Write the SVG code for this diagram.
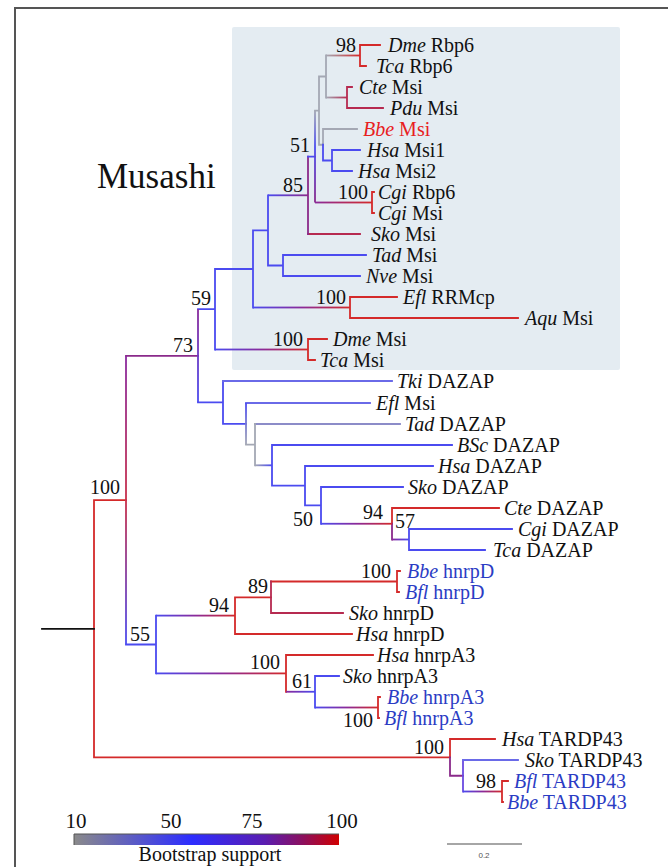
<svg xmlns="http://www.w3.org/2000/svg" width="668" height="867" viewBox="0 0 668 867">
<style>
text{font-family:"Liberation Serif","Times New Roman",serif;font-size:20px;fill:#111}
.i{font-style:italic}
.bl{fill:#2b3cc4}
.rd{fill:#e8201e}
.bs{text-anchor:end}
path{fill:none;stroke-width:1.8;stroke-linecap:square}
.r{stroke:#d42a2a}.b{stroke:#4b4bf0}.g{stroke:#a4a8b4}.p{stroke:#8a2a8a}.c{stroke:#b62a50}.k{stroke:#111}
.lb{stroke:#6a6ae8}.gb{stroke:#8c8cc8}.vb{stroke:#6a4ae0}
</style>
<defs>
<linearGradient id="gGR"><stop offset="0" stop-color="#a4a8b4"/><stop offset="1" stop-color="#d42a2a"/></linearGradient>
<linearGradient id="gGC"><stop offset="0" stop-color="#a4a8b4"/><stop offset="1" stop-color="#b62a50"/></linearGradient>
<linearGradient id="gBR"><stop offset="0" stop-color="#4b4bf0"/><stop offset="0.5" stop-color="#8a2a9a"/><stop offset="1" stop-color="#d42a2a"/></linearGradient>
<linearGradient id="gBP"><stop offset="0" stop-color="#4b4bf0"/><stop offset="1" stop-color="#8a2a8a"/></linearGradient>
<linearGradient id="gPR"><stop offset="0" stop-color="#8a2a9a"/><stop offset="1" stop-color="#d42a2a"/></linearGradient>
<linearGradient id="gPB"><stop offset="0" stop-color="#8a2a9a"/><stop offset="1" stop-color="#4b4bf0"/></linearGradient>
<linearGradient id="gGB"><stop offset="0" stop-color="#a4a8b4"/><stop offset="1" stop-color="#4b4bf0"/></linearGradient>
<linearGradient id="vGBP" x1="0" y1="0" x2="0" y2="1"><stop offset="0" stop-color="#a4a8b4"/><stop offset="0.4" stop-color="#4b4bf0"/><stop offset="1" stop-color="#8a2a8a"/></linearGradient>
<linearGradient id="vPB" x1="0" y1="0" x2="0" y2="1"><stop offset="0" stop-color="#8a2a9a"/><stop offset="1" stop-color="#4b4bf0"/></linearGradient>
<linearGradient id="vBG" x1="0" y1="0" x2="0" y2="1"><stop offset="0" stop-color="#4b4bf0"/><stop offset="1" stop-color="#a4a8b4"/></linearGradient>
<linearGradient id="vPRB" x1="0" y1="0" x2="0" y2="1"><stop offset="0" stop-color="#8a2aa0"/><stop offset="0.5" stop-color="#c8304a"/><stop offset="1" stop-color="#4b4bf0"/></linearGradient>
<linearGradient id="vRP" x1="0" y1="0" x2="0" y2="1"><stop offset="0" stop-color="#d42a2a"/><stop offset="1" stop-color="#8a2a9a"/></linearGradient>
<linearGradient id="leg"><stop offset="0" stop-color="#8a8a8a"/><stop offset="0.444" stop-color="#2d2dff"/><stop offset="0.72" stop-color="#5a1db0"/><stop offset="0.86" stop-color="#8a1060"/><stop offset="1" stop-color="#d00000"/></linearGradient>
</defs>
<rect width="668" height="867" fill="#fff"/>
<path d="M15 867V8H668" style="stroke:#555;stroke-width:2;stroke-linecap:butt"/>
<rect id="musashi-box" x="232" y="27" width="388" height="343" rx="2" fill="#e4ecf2"/>
<text id="musashi-label" x="97" y="188" style="font-size:35px">Musashi</text>

<g id="connectors">
<!-- gray -->
<path class="g" d="M326 55.5V97.5M319 76.5V144.75M319 76.5H326M319 144.75H323M323 129V144.75M323 129H357M315 110.6H319"/>
<rect x="326" y="54.6" width="34" height="1.8" fill="url(#gGR)"/>
<rect x="326" y="96.6" width="21" height="1.8" fill="url(#gGC)"/>
<!-- red -->
<path class="r" d="M360 45V66M360 45H380M360 66H366M372 192V213M372 192H374M372 213H374M350 297V318M350 297H397M350 318H518M308 339V360M308 339H327M308 360H315M392 508V523.75M392 508H499M94 500.1H126M94 500.1V757.4M235 597.3V634M235 634H352M235 597.3H271M271 581.5H397M397 571V592M397 571H400M397 592H399M286 655V691.75M286 655H373M378 697V718M378 697H380M378 718H379M94 757.4H450M450 739V757.4M450 739H495M502 781V802M502 781H508M502 802H503"/>
<path class="c" d="M347 87V108M347 87H352M347 108H383M271 581.5V613M271 613H343M308 234H360"/>
<rect x="307.1" y="156.6" width="1.8" height="77.4" fill="url(#vRP)" style="opacity:0"/>
<path class="p" d="M308 156.6V234M126 355.8H198M392 523.75V539.5M450 757.4V775.75M450 775.75H463"/>
<!-- blue -->
<path class="b" d="M332 150V171M332 150H360M332 171H352M323 160.5H332M323 144.75V160.5M308 156.6H315M268 195.3V265.5M268 265.5H283M283 255V276M283 255H366M283 276H360M253 230.4H268M253 230.4V307.5M215 269H253M215 269V349.5M198 309.2H215M198 402.4H223M223 381V423.8M223 423.8H246M272 445V485.7M272 445H452M272 485.7H305M305 466V505.4M305 466H433M305 505.4H321M321 487V523.75M321 487H403M409 529V550M409 529H512M409 550H485M126 644.5H156M156 615.6V673.4M315 676V707.5M315 676H339"/>
<path class="lb" d="M223 381H392M246 403H370"/>
<path class="gb" d="M255 424H400"/>
<path class="g" d="M246 444.7H255M255 424V465.3"/>
<path class="vb" d="M463 760V791.5"/>
<path class="lb" d="M463 760H518"/>
<path class="k" d="M42 628.8H94"/>
<!-- gradient segments -->
<rect x="314.1" y="110.6" width="1.8" height="91.9" fill="url(#vGBP)"/>
<rect x="315" y="201.6" width="57" height="1.8" fill="url(#gPR)"/>
<rect x="268" y="194.4" width="40" height="1.8" fill="url(#gBP)"/>
<rect x="253" y="306.6" width="97" height="1.8" fill="url(#gBR)"/>
<rect x="215" y="348.6" width="93" height="1.8" fill="url(#gBR)"/>
<rect x="197.1" y="309.2" width="1.8" height="93.2" fill="url(#vPB)"/>
<rect x="245.1" y="403" width="1.8" height="41.7" fill="url(#vBG)"/>
<rect x="255" y="464.4" width="17" height="1.8" fill="url(#gGB)"/>
<rect x="321" y="522.85" width="71" height="1.8" fill="url(#gBR)"/>
<rect x="392" y="538.6" width="17" height="1.8" fill="url(#gPB)"/>
<rect x="125.1" y="355.8" width="1.8" height="288.7" fill="url(#vPRB)"/>
<rect x="156" y="614.7" width="79" height="1.8" fill="url(#gBR)"/>
<rect x="156" y="672.5" width="130" height="1.8" fill="url(#gBR)"/>
<rect x="286" y="690.85" width="29" height="1.8" fill="url(#gPB)"/>
<rect x="315" y="706.6" width="63" height="1.8" fill="url(#gBR)"/>
<rect x="463" y="790.6" width="39" height="1.8" fill="url(#gBR)"/>
</g>

<g id="bootstrap">
<text class="bs" x="356" y="52">98</text>
<text class="bs" x="310" y="152">51</text>
<text class="bs" x="368" y="199">100</text>
<text class="bs" x="303" y="192">85</text>
<text class="bs" x="346" y="304">100</text>
<text class="bs" x="211" y="305">59</text>
<text class="bs" x="303" y="346">100</text>
<text class="bs" x="193" y="352">73</text>
<text class="bs" x="120" y="494">100</text>
<text class="bs" x="313" y="526">50</text>
<text class="bs" x="383" y="519">94</text>
<text class="bs" x="415" y="528">57</text>
<text class="bs" x="391" y="578">100</text>
<text class="bs" x="268" y="593">89</text>
<text class="bs" x="229" y="612">94</text>
<text class="bs" x="150" y="641">55</text>
<text class="bs" x="280" y="669">100</text>
<text class="bs" x="312" y="688">61</text>
<text class="bs" x="373" y="727">100</text>
<text class="bs" x="444" y="754">100</text>
<text class="bs" x="496" y="788">98</text>
</g>

<g id="leaves">
<text id="l0" x="388" y="52"><tspan class="i">Dme</tspan> Rbp6</text>
<text id="l1" x="376" y="73"><tspan class="i">Tca</tspan> Rbp6</text>
<text id="l2" x="359" y="94"><tspan class="i">Cte</tspan> Msi</text>
<text id="l3" x="390" y="115"><tspan class="i">Pdu</tspan> Msi</text>
<text id="l4" x="363" y="136" class="rd"><tspan class="i">Bbe</tspan> Msi</text>
<text id="l5" x="367" y="157"><tspan class="i">Hsa</tspan> Msi1</text>
<text id="l6" x="358" y="178"><tspan class="i">Hsa</tspan> Msi2</text>
<text id="l7" x="378" y="199"><tspan class="i">Cgi</tspan> Rbp6</text>
<text id="l8" x="378" y="220"><tspan class="i">Cgi</tspan> Msi</text>
<text id="l9" x="371" y="241"><tspan class="i">Sko</tspan> Msi</text>
<text id="l10" x="372" y="262"><tspan class="i">Tad</tspan> Msi</text>
<text id="l11" x="366" y="283"><tspan class="i">Nve</tspan> Msi</text>
<text id="l12" x="403" y="304"><tspan class="i">Efl</tspan> RRMcp</text>
<text id="l13" x="525" y="325"><tspan class="i">Aqu</tspan> Msi</text>
<text id="l14" x="333" y="346"><tspan class="i">Dme</tspan> Msi</text>
<text id="l15" x="320" y="367"><tspan class="i">Tca</tspan> Msi</text>
<text id="l16" x="397" y="388"><tspan class="i">Tki</tspan> DAZAP</text>
<text id="l17" x="376" y="410"><tspan class="i">Efl</tspan> Msi</text>
<text id="l18" x="405" y="431"><tspan class="i">Tad</tspan> DAZAP</text>
<text id="l19" x="457" y="452"><tspan class="i">BSc</tspan> DAZAP</text>
<text id="l20" x="438" y="473"><tspan class="i">Hsa</tspan> DAZAP</text>
<text id="l21" x="408" y="494"><tspan class="i">Sko</tspan> DAZAP</text>
<text id="l22" x="504" y="515"><tspan class="i">Cte</tspan> DAZAP</text>
<text id="l23" x="518" y="536"><tspan class="i">Cgi</tspan> DAZAP</text>
<text id="l24" x="493" y="557"><tspan class="i">Tca</tspan> DAZAP</text>
<text id="l25" x="407" y="578" class="bl"><tspan class="i">Bbe</tspan> hnrpD</text>
<text id="l26" x="405" y="599" class="bl"><tspan class="i">Bfl</tspan> hnrpD</text>
<text id="l27" x="349" y="620"><tspan class="i">Sko</tspan> hnrpD</text>
<text id="l28" x="356" y="641"><tspan class="i">Hsa</tspan> hnrpD</text>
<text id="l29" x="377" y="662"><tspan class="i">Hsa</tspan> hnrpA3</text>
<text id="l30" x="343" y="683"><tspan class="i">Sko</tspan> hnrpA3</text>
<text id="l31" x="387" y="704" class="bl"><tspan class="i">Bbe</tspan> hnrpA3</text>
<text id="l32" x="384" y="725" class="bl"><tspan class="i">Bfl</tspan> hnrpA3</text>
<text id="l33" x="502" y="746"><tspan class="i">Hsa</tspan> TARDP43</text>
<text id="l34" x="525" y="767"><tspan class="i">Sko</tspan> TARDP43</text>
<text id="l35" x="514" y="788" class="bl"><tspan class="i">Bfl</tspan> TARDP43</text>
<text id="l36" x="507" y="809" class="bl"><tspan class="i">Bbe</tspan> TARDP43</text>
</g>

<g id="legend">
<text x="76" y="828" text-anchor="middle" style="font-size:21px">10</text>
<text x="171" y="828" text-anchor="middle" style="font-size:21px">50</text>
<text x="252" y="828" text-anchor="middle" style="font-size:21px">75</text>
<text x="342" y="828" text-anchor="middle" style="font-size:21px">100</text>
<rect x="74" y="834" width="265" height="11" fill="url(#leg)"/>
<path d="M74 845V834H339" style="stroke:#555;stroke-width:1;stroke-linecap:butt"/>
<text x="210" y="861" text-anchor="middle">Bootstrap support</text>
</g>
<g id="scale">
<path d="M447 844H522" style="stroke:#888;stroke-width:1.5;stroke-linecap:butt"/>
<text x="484" y="858" text-anchor="middle" style="font-family:'Liberation Sans',Arial,sans-serif;font-size:8px;fill:#555">0.2</text>
</g>
</svg>
